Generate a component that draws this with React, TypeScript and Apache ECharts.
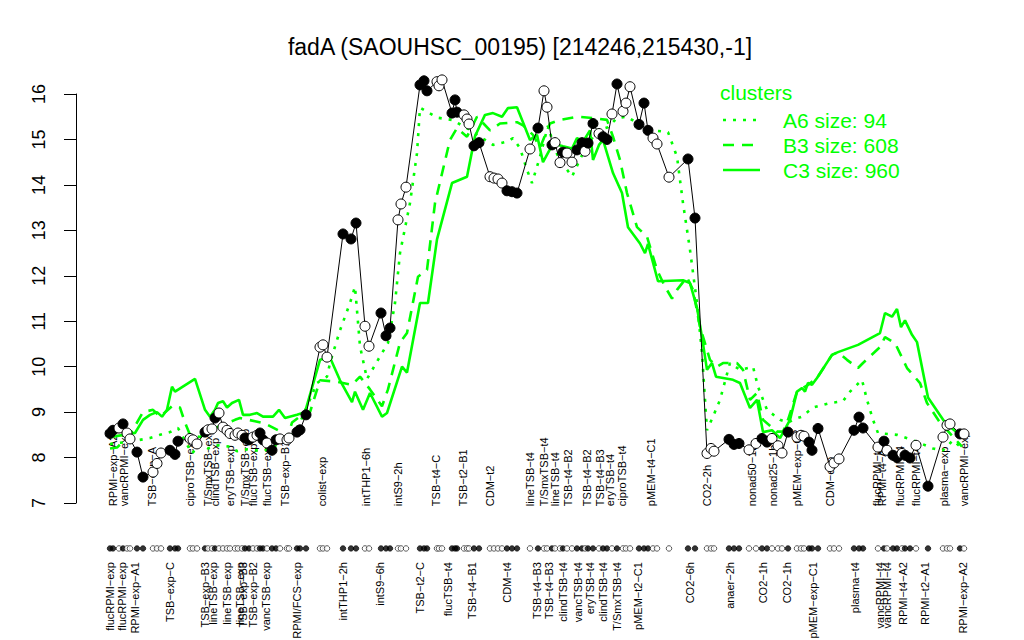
import React, { useEffect, useRef } from "react";
import * as echarts from "echarts";

const TITLE = "fadA (SAOUHSC_00195) [214246,215430,-1]";
const FONT = "'Liberation Sans', Arial, Helvetica, sans-serif";
const GREEN = "#00ff00";

// condition positions along the x axis (slot units) and expression values
const positions = [
  2.0, 2.6, 3.8, 4.6, 5.4, 6.0, 7.4, 8.6, 10.6, 11.4,
  12.2, 14.0, 15.0, 15.6, 18.0, 18.6, 19.4, 21.0, 21.6, 22.4,
  23.0, 23.8, 24.6, 25.4, 26.0, 27.0, 27.6, 28.4, 29.0, 29.8,
  30.6, 31.4, 32.0, 32.6, 33.4, 34.4, 35.2, 36.0, 37.4, 37.8,
  39.4, 40.0, 41.2, 44.0, 44.6, 45.4, 48.6, 50.2, 51.2, 53.0,
  53.8, 56.2, 57.2, 58.0, 59.6, 60.2, 61.2, 64.0, 64.8, 65.4,
  67.4, 67.8, 68.4, 70.4, 71.0, 71.4, 72.8, 73.4, 73.8, 74.8,
  75.8, 78.0, 78.8, 79.6, 80.4, 81.4, 82.4, 83.4, 86.0, 87.6,
  88.8, 89.4, 90.4, 91.0, 92.0, 92.6, 93.4, 94.4, 95.4, 96.4,
  97.0, 97.6, 98.6, 99.8, 100.6, 101.4, 102.4, 103.4, 104.6, 105.2,
  106.0, 107.8, 108.8, 109.6, 110.6, 111.4, 113.8, 117.6, 119.0, 121.4,
  122.2, 122.8, 125.8, 126.8, 127.8, 129.8, 131.2, 132.4, 133.4, 134.4,
  135.6, 136.4, 137.6, 139.4, 140.2, 140.8, 141.8, 142.4, 143.6, 146.0,
  146.8, 147.8, 150.8, 151.8, 152.6, 155.6, 156.8, 157.4, 158.6, 159.4,
  160.4, 161.0, 162.0, 163.2, 165.6, 168.6, 169.4, 170.0, 172.0, 172.8,
];
const values = [
  8.53, 8.60, 8.65, 8.74, 8.54, 8.41, 8.12, 7.57, 7.68, 7.87,
  8.10, 8.16, 8.07, 8.36, 8.42, 8.39, 8.30, 8.56, 8.61, 8.63,
  8.87, 8.98, 8.67, 8.60, 8.53, 8.49, 8.54, 8.49, 8.43, 8.39,
  8.45, 8.49, 8.54, 8.39, 8.32, 8.16, 8.39, 8.41, 8.39, 8.43,
  8.56, 8.61, 8.94, 10.43, 10.48, 10.21, 12.92, 12.81, 13.16, 10.89,
  10.45, 11.18, 10.68, 10.85, 13.23, 13.58, 13.95, 16.20, 16.29, 16.07,
  16.27, 16.18, 16.31, 15.58, 15.87, 15.60, 15.54, 15.45, 15.34, 14.86,
  14.93, 14.18, 14.15, 14.13, 14.04, 13.87, 13.85, 13.82, 14.79, 15.25,
  16.07, 15.71, 14.88, 14.93, 14.49, 14.72, 14.70, 14.50, 14.77, 14.93,
  14.74, 14.92, 15.35, 15.13, 15.06, 15.00, 15.56, 16.22, 15.62, 15.80,
  16.16, 15.33, 15.80, 15.20, 15.03, 14.90, 14.17, 14.57, 13.27, 8.09,
  8.20, 8.14, 8.40, 8.29, 8.31, 8.17, 8.31, 8.42, 8.34, 8.42,
  8.26, 8.10, 8.56, 8.45, 8.49, 8.47, 8.34, 8.16, 8.64, 7.80,
  7.88, 7.97, 8.60, 8.89, 8.65, 8.23, 8.36, 8.16, 8.05, 8.00,
  8.09, 8.05, 7.99, 8.27, 7.37, 8.45, 8.71, 8.74, 8.52, 8.52,
];
const filled = [
  1, 1, 0, 1, 0, 0, 1, 1, 0, 0,
  0, 1, 1, 1, 0, 0, 0, 1, 0, 0,
  1, 0, 0, 0, 0, 0, 0, 0, 1, 1,
  0, 0, 1, 1, 0, 1, 1, 0, 0, 0,
  1, 1, 1, 0, 0, 0, 1, 1, 1, 0,
  0, 1, 1, 1, 0, 0, 0, 1, 1, 1,
  0, 0, 0, 1, 1, 1, 0, 0, 0, 1,
  1, 0, 0, 0, 0, 1, 1, 1, 0, 1,
  0, 0, 1, 0, 0, 1, 0, 0, 1, 1,
  0, 1, 1, 0, 1, 1, 0, 1, 0, 0,
  0, 1, 1, 1, 0, 0, 0, 1, 1, 0,
  0, 0, 1, 1, 1, 0, 0, 1, 1, 0,
  0, 0, 1, 0, 0, 0, 1, 1, 1, 0,
  0, 0, 1, 1, 1, 0, 1, 0, 1, 1,
  0, 1, 1, 0, 1, 0, 0, 0, 1, 0,
];

// cluster mean profiles
const c3Pos = [
  2.0, 7.0, 8.6, 10.0, 11.4, 12.4, 13.4, 14.4, 15.0, 19.0, 21.0, 22.0, 23.0, 23.6, 24.6, 25.4,
  26.4, 27.8, 28.6, 30.0, 31.4, 32.6, 34.6, 35.8, 37.0, 39.4, 41.0, 44.0, 46.0, 48.0, 50.4,
  51.0, 52.6, 54.0, 56.4, 57.4, 60.4, 61.4, 64.0, 65.6, 67.4, 70.4, 73.4, 75.0, 77.0, 78.6,
  80.4, 81.6, 83.4, 86.0, 87.4, 88.6, 90.6, 92.6, 94.4, 95.4, 96.6, 98.0, 98.6, 99.8, 100.6,
  102.6, 104.4, 105.6, 108.0, 109.0, 109.6, 111.6, 116.6, 118.0, 119.4, 120.4, 121.4, 122.4,
  123.2, 126.6, 128.0, 130.0, 131.4, 132.6, 134.4, 136.0, 138.0, 139.4, 140.4, 141.0, 141.6,
  142.4, 143.4, 146.4, 147.6, 151.6, 156.0, 157.0, 158.4, 159.4, 160.2, 161.0, 162.4, 163.4,
  165.6, 169.0, 172.4,
];
const c3Val = [
  8.45, 8.54, 8.83, 8.94, 9.0, 8.9, 9.05, 9.56, 9.45, 9.73, 9.05, 8.9, 9.05, 9.2, 9.24, 9.1,
  9.2, 9.27, 8.94, 8.94, 8.98, 8.9, 8.9, 9.05, 8.87, 8.94, 9.0, 10.15, 10.2, 9.7, 9.22,
  9.45, 9.05, 9.42, 8.9, 8.98, 10.0, 9.87, 11.4, 11.4, 12.8, 14.04, 14.18, 15.07, 15.54, 15.58,
  15.5, 15.69, 15.71, 14.99, 15.1, 14.5, 14.91, 14.85, 14.8, 15.03, 14.95, 15.2, 14.55, 14.88, 14.99,
  14.26, 13.82, 13.07, 12.71, 12.5, 12.7, 11.88, 11.9, 11.84, 11.3, 10.65, 9.93, 10.08,
  9.78, 9.71, 9.64, 9.09, 9.27, 8.56, 8.6, 8.43, 8.83, 9.45, 9.53, 9.45, 9.64,
  9.6, 9.75, 10.26, 10.32, 10.48, 10.74, 11.18, 11.1, 11.27, 10.87, 11.02, 10.7, 10.54,
  9.32, 8.77, 8.46,
];
const b3Pos = [
  2.0, 3.4, 6.0, 8.6, 10.6, 12.0, 14.6, 16.0, 17.0, 18.0, 20.0, 22.0, 27.0, 28.0, 31.0, 33.0,
  35.6, 37.4, 38.4, 39.6, 42.0, 44.0, 47.4, 50.4, 52.0, 54.0, 56.4, 57.6, 60.0, 61.4, 63.6,
  65.4, 67.0, 70.0, 71.4, 73.4, 75.4, 78.0, 80.0, 83.4, 84.6, 86.6, 88.0, 90.0, 92.0, 95.4,
  98.6, 101.4, 102.6, 104.0, 105.4, 107.4, 109.4, 111.4, 113.0, 114.4, 115.4, 117.4, 118.6,
  120.0, 122.0, 123.4, 124.6, 127.4, 128.6, 130.0, 131.4, 132.6, 135.4, 136.6, 137.6, 139.4,
  141.6, 143.4, 146.4, 147.6, 149.4, 151.6, 152.6, 156.0, 157.0, 159.0, 161.4, 164.0, 165.4,
  168.0, 170.6, 172.4,
];
const b3Val = [
  8.2, 8.22, 8.5, 9.0, 9.05, 8.9, 9.15, 9.1, 8.77, 8.5, 8.45, 8.6, 8.83, 8.87, 8.8, 8.75,
  8.6, 8.4, 8.77, 8.87, 9.0, 9.7, 9.67, 9.6, 9.78, 9.5, 9.13, 9.5, 10.53, 10.74, 11.98,
  12.13, 13.6, 14.99, 15.25, 15.06, 15.5, 15.2, 15.35, 15.38, 15.31, 15.1, 14.82, 15.35, 15.43, 15.5,
  15.47, 15.43, 15.06, 14.55, 13.82, 13.07, 12.86, 12.13, 11.76, 11.5, 11.69, 11.97, 11.69,
  10.88, 10.15, 10.0, 10.08, 10.08, 9.93, 9.27, 9.42, 8.83, 8.57, 8.57, 8.83, 9.45,
  9.6, 9.75, 10.26, 10.32, 10.15, 9.97, 10.08, 10.43, 10.65, 10.52, 9.97, 9.64, 9.2,
  8.77, 8.46, 8.24,
];
const a6Pos = [
  2.0, 6.0, 10.0, 12.0, 14.0, 15.6, 18.4, 20.0, 21.6, 23.6, 26.0, 27.4, 29.4, 32.6, 34.4, 38.0,
  40.0, 43.4, 45.4, 46.0, 48.0, 50.0, 51.0, 52.0, 53.4, 55.6, 57.6, 59.0, 60.0, 62.0, 63.4,
  64.0, 67.4, 70.4, 73.4, 76.0, 78.6, 81.4, 82.6, 84.0, 85.4, 86.4, 88.0, 89.6, 91.0, 92.0,
  94.4, 96.6, 99.4, 101.6, 103.4, 105.4, 108.0, 110.6, 113.6, 115.4, 116.6, 118.0, 119.4,
  120.4, 121.4, 122.6, 124.0, 126.0, 128.0, 130.6, 131.6, 133.4, 136.0, 137.6, 139.0, 140.4,
  142.6, 146.0, 148.6, 150.0, 152.4, 153.4, 154.6, 155.6, 159.4, 162.6, 166.6, 168.6, 170.6,
  172.4,
];
const a6Val = [
  8.3, 8.35, 8.43, 8.5, 8.56, 8.65, 8.09, 8.3, 8.2, 8.27, 8.24, 8.14, 8.18, 8.14, 8.22, 8.43,
  8.77, 9.64, 9.78, 10.08, 10.8, 11.4, 11.76, 10.45, 9.73, 10.15, 10.52, 11.4, 12.5, 13.6, 14.7,
  15.7, 15.48, 15.43, 15.25, 15.06, 14.88, 14.95, 15.03, 14.81, 14.33, 14.04, 14.62, 15.3, 14.77, 14.55,
  14.18, 14.7, 15.2, 15.27, 15.47, 15.5, 15.32, 15.2, 15.16, 14.62, 13.6, 12.57, 11.4,
  10.3, 8.6, 8.9, 9.27, 10.08, 9.93, 10.0, 9.56, 9.05, 8.83, 8.77, 8.85, 8.9,
  9.1, 9.2, 9.24, 9.45, 9.71, 9.27, 8.83, 8.54, 8.5, 8.38, 8.2, 8.16, 8.38,
  8.2,
];

const topLabels = [
  "RPMI−exp−A2", "vancRPMI−exp", "TSB−exp−A", "ciproTSB−exp", "T/SmxTSB−exp", "clindTSB−exp",
  "eryTSB−exp", "T/SmxTSB−exp", "flucTSB−exp", "flucTSB−exp", "TSB−exp−B1", "colist−exp",
  "intTHP1−6h", "intS9−2h", "TSB−t4−C", "TSB−t2−B1", "CDM−t2", "lineTSB−t4", "T/SmxTSB−t4",
  "lineTSB−t4", "TSB−t4−B2", "TSB−t4−B2", "TSB−t4−B3", "eryTSB−t4", "ciproTSB−t4",
  "pMEM−t4−C1", "CO2−2h", "nonad50−1h", "nonad25−1h", "pMEM−exp−C2", "CDM−exp",
  "flucRPMI−t4", "RPMI−t4−A2", "flucRPMI−t4", "flucRPMI−t4", "plasma−exp", "vancRPMI−exp",
];
const topLabelPos = [
  2.6, 4.8, 10.4, 18.0, 21.6, 23.0, 26.0, 29.0, 30.6, 33.4, 37.0, 44.4,
  53.2, 59.6, 67.2, 72.6, 78.0, 86.0, 88.8, 91.0, 93.6, 97.4, 100.0, 102.0, 104.4,
  110.2, 121.4, 130.4, 134.6, 139.4, 146.0, 155.4, 156.4, 160.0, 163.2, 168.8, 172.8,
];
const bottomLabels = [
  "flucRPMI−exp", "flucRPMI−exp", "RPMI−exp−A1", "TSB−exp−C", "TSB−exp−B3", "lineTSB−exp",
  "lineTSB−exp", "lineTSB−exp", "TSB−exp−B3", "TSB−exp−B2", "vancTSB−exp", "RPMI/FCS−exp",
  "intTHP1−2h", "intS9−6h", "TSB−t2−C", "flucTSB−t4", "TSB−t4−B1", "CDM−t4", "TSB−t4−B3",
  "TSB−t4−B3", "clindTSB−t4", "vancTSB−t4", "eryTSB−t4", "clindTSB−t4", "T/SmxTSB−t4",
  "pMEM−t2−C1", "CO2−6h", "anaer−2h", "CO2−1h", "CO2−1h", "pMEM−exp−C1", "plasma−t4",
  "vancRPMI−t4", "vancRPMI−t4", "RPMI−t4−A2", "RPMI−t2−A1", "RPMI−exp−A2",
];
const bottomLabelPos = [
  2.0, 4.4, 7.0, 14.0, 21.0, 22.6, 25.4, 28.0, 28.6, 30.6, 33.2, 39.4,
  48.6, 56.0, 64.0, 69.6, 74.4, 81.4, 87.4, 89.8, 92.6, 95.6, 98.0, 100.6, 103.4,
  107.6, 118.0, 126.0, 132.6, 137.4, 142.6, 151.0, 156.0, 157.4, 160.6, 165.0, 172.6,
];

const legendNames = ["A6 size: 94", "B3 size: 608", "C3 size: 960"];
const yTicks = [7, 8, 9, 10, 11, 12, 13, 14, 15, 16];

const DOT_ROW_Y = 6.0;
const TOP_LABEL_Y = 6.93;
const BOTTOM_LABEL_Y = 5.7;
const DOTTED = [3, 7];
const DASHED = [11, 8];

function pairs(xs: number[], ys: number[]) {
  return xs.map((x, i) => [x, ys[i]]);
}

export default function App() {
  const ref = useRef<HTMLDivElement>(null);
  useEffect(() => {
    if (!ref.current) return;
    const chart = echarts.init(ref.current, undefined, { renderer: "svg" });
    const pointData = positions.map((p, i) => ({
      value: [p, values[i]],
      itemStyle: { color: filled[i] ? "#000" : "#fff", borderColor: "#000", borderWidth: 1 },
    }));
    const dotData = positions.map((p, i) => ({
      value: [p, DOT_ROW_Y],
      itemStyle: { color: filled[i] ? "#000" : "#fff", borderColor: "#000", borderWidth: 0.8 },
    }));
    chart.setOption({
      animation: false,
      backgroundColor: "#fff",
      grid: { left: 76, right: 54, top: 94, bottom: 137, containLabel: false },
      xAxis: { type: "value", min: -4.8, max: 174, show: false },
      yAxis: {
        type: "value",
        min: 7,
        max: 16,
        interval: 1,
        axisLine: { show: true, onZero: false, lineStyle: { color: "#000", width: 1 } },
        axisTick: { show: true, length: 12, lineStyle: { color: "#000" } },
        splitLine: { show: false },
        axisLabel: {
          rotate: 90,
          margin: 28,
          fontSize: 18,
          color: "#000",
          fontFamily: FONT,
          formatter: (v: number) => (yTicks.includes(v) ? String(v) : ""),
        },
      },
      series: [
        {
          type: "line", data: pairs(a6Pos, a6Val), symbol: "none", z: 1, clip: false,
          lineStyle: { color: GREEN, width: 2.6, type: DOTTED },
        },
        {
          type: "line", data: pairs(b3Pos, b3Val), symbol: "none", z: 1, clip: false,
          lineStyle: { color: GREEN, width: 2.6, type: DASHED },
        },
        {
          type: "line", data: pairs(c3Pos, c3Val), symbol: "none", z: 1, clip: false,
          lineStyle: { color: GREEN, width: 2.6, type: "solid" },
        },
        {
          type: "line", data: pointData, symbol: "circle", symbolSize: 10, showSymbol: true, z: 3,
          clip: false,
          lineStyle: { color: "#000", width: 1 },
        },
        {
          type: "scatter", data: dotData, symbol: "circle", symbolSize: 5.5, clip: false, z: 3,
        },
      ],
    });

    const g: any[] = [];
    g.push({
      type: "text", x: 520, y: 47,
      style: { text: TITLE, font: `23px ${FONT}`, fill: "#000", align: "center", verticalAlign: "middle" },
    });
    g.push({
      type: "text", x: 720, y: 92,
      style: { text: "clusters", font: `21px ${FONT}`, fill: GREEN, align: "left", verticalAlign: "middle" },
    });
    const dashes = [DOTTED, DASHED, null];
    legendNames.forEach((name, i) => {
      const y = 120 + i * 25;
      g.push({
        type: "line", shape: { x1: 723, y1: y, x2: 760, y2: y },
        style: { stroke: GREEN, lineWidth: 2.6, lineDash: dashes[i] || undefined },
      });
      g.push({
        type: "text", x: 783, y,
        style: { text: name, font: `21px ${FONT}`, fill: GREEN, align: "left", verticalAlign: "middle" },
      });
    });
    topLabels.forEach((t, i) => {
      const [px, py] = chart.convertToPixel({ gridIndex: 0 }, [topLabelPos[i], TOP_LABEL_Y]) as number[];
      g.push({
        type: "text", x: px, y: py, rotation: Math.PI / 2,
        style: { text: t, font: `11px ${FONT}`, fill: "#000", align: "left", verticalAlign: "middle" },
      });
    });
    bottomLabels.forEach((t, i) => {
      const [px, py] = chart.convertToPixel({ gridIndex: 0 }, [bottomLabelPos[i], BOTTOM_LABEL_Y]) as number[];
      g.push({
        type: "text", x: px, y: py, rotation: Math.PI / 2,
        style: { text: t, font: `11px ${FONT}`, fill: "#000", align: "right", verticalAlign: "middle" },
      });
    });
    chart.setOption({ graphic: g });
    return () => chart.dispose();
  }, []);
  return (
    <div
      ref={ref}
      style={{ position: "fixed", left: 0, top: 0, width: 1024, height: 640, background: "#fff" }}
    />
  );
}
